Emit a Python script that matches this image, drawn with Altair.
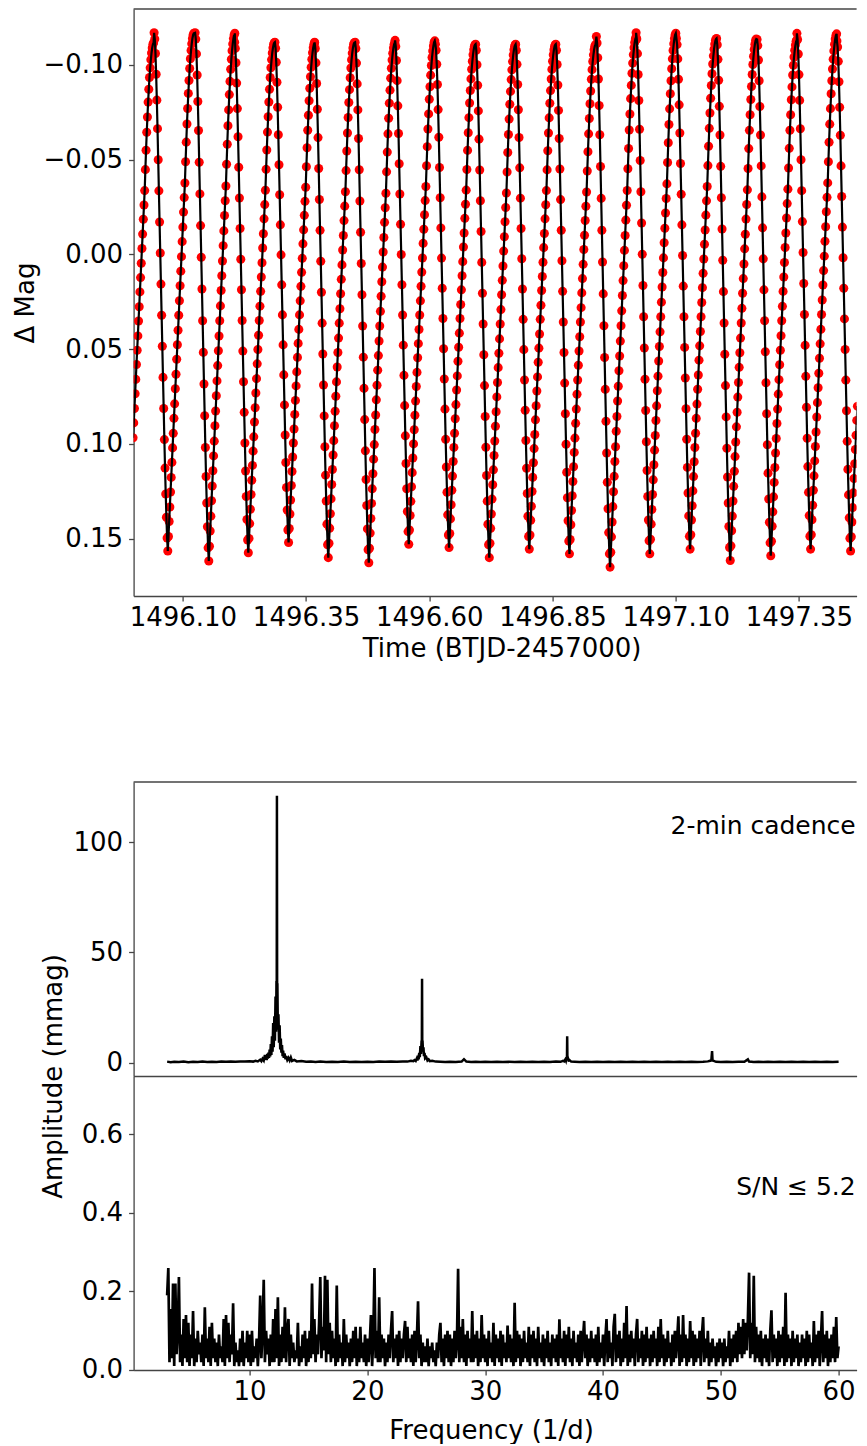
import altair as alt
import numpy as np
import pandas as pd

# ---------------- light curve ----------------
lc_cadence_days = 2.0 / 1440.0
# time of each light maximum (cycle before the first visible one included)
lc_max_time = [1495.9600, 1496.0416, 1496.1248, 1496.2050, 1496.2867, 1496.3673,
               1496.4495, 1496.5306, 1496.6124, 1496.6940, 1496.7752, 1496.8567,
               1496.9391, 1497.0197, 1497.1015, 1497.1830, 1497.2652, 1497.3460,
               1497.4272]
lc_max_mag = [-0.112, -0.117, -0.117, -0.112, -0.112, -0.112, -0.112, -0.113, -0.111,
              -0.111, -0.111, -0.111, -0.115, -0.117, -0.114, -0.114, -0.1135, -0.1167,
              -0.1127]
lc_min_mag = [0.158, 0.1565, 0.1618, 0.1574, 0.152, 0.160, 0.1627, 0.1529, 0.1547,
              0.160, 0.1555, 0.158, 0.165, 0.158, 0.1555, 0.1615, 0.159, 0.1555, 0.1565]
# pulse shape read off one cycle, one value per 2-min cadence after maximum
# (0 = maximum light, 1 = minimum light)
lc_profile = [0.000, 0.012, 0.040, 0.080, 0.130, 0.185, 0.245, 0.305, 0.365, 0.425,
              0.485, 0.545, 0.605, 0.665, 0.725, 0.785, 0.840, 0.890, 0.935, 0.975,
              1.000, 0.972, 0.943, 0.915, 0.886, 0.858, 0.829, 0.801, 0.773, 0.744,
              0.716, 0.687, 0.659, 0.630, 0.602, 0.574, 0.545, 0.517, 0.488, 0.460,
              0.432, 0.403, 0.375, 0.346, 0.318, 0.290, 0.249, 0.211, 0.176, 0.146,
              0.117, 0.092, 0.069, 0.050, 0.034, 0.021, 0.011, 0.004, 0.001]

# ---------------- amplitude spectrum, 2-min cadence (mmag) ----------------
sp_freq = [3.0, 3.3, 3.6, 4.0, 4.4, 4.8, 5.2, 5.6, 6.0, 6.4, 6.8, 7.2, 7.6, 8.0, 8.4,
           8.8, 9.2, 9.6, 10.0, 10.3, 10.5, 10.7, 10.9, 11.0, 11.1, 11.2, 11.3, 11.35,
           11.4, 11.45, 11.5, 11.55, 11.6, 11.65, 11.7, 11.75, 11.8, 11.85, 11.9, 11.95,
           12.0, 12.05, 12.1, 12.15, 12.2, 12.25, 12.28, 12.30, 12.32, 12.34, 12.36,
           12.40, 12.45, 12.50, 12.55, 12.60, 12.65, 12.70, 12.75, 12.80, 12.85, 12.90,
           12.97, 13.05, 13.1, 13.2, 13.3, 13.4, 13.5, 13.6, 13.8, 14.0, 14.4, 14.8,
           15.2, 15.6, 16.0, 16.5, 17.0, 17.5, 18.0, 18.5, 19.0, 19.5, 20.0, 20.5, 21.0,
           21.5, 22.0, 22.5, 23.0, 23.4, 23.7, 23.9, 24.0, 24.1, 24.2, 24.25, 24.3,
           24.35, 24.4, 24.45, 24.5, 24.55, 24.6, 24.62, 24.64, 24.66, 24.68, 24.72,
           24.76, 24.8, 24.85, 24.9, 25.0, 25.1, 25.2, 25.3, 25.5, 25.8, 26.2, 26.6,
           27.0, 27.5, 28.0, 28.2, 28.4, 28.8, 29.2, 29.6, 30.0, 30.5, 31.0, 31.5, 32.0,
           32.5, 33.0, 33.5, 34.0, 34.5, 35.0, 35.5, 36.0, 36.4, 36.6, 36.7, 36.8, 36.85,
           36.9, 36.94, 36.96, 36.98, 37.02, 37.08, 37.15, 37.3, 37.6, 38.0, 38.5, 39.0,
           39.5, 40.0, 40.5, 41.0, 41.5, 42.0, 42.5, 43.0, 43.5, 44.0, 44.5, 45.0, 45.5,
           46.0, 46.5, 47.0, 47.5, 48.0, 48.5, 48.9, 49.1, 49.2, 49.26, 49.3, 49.4, 49.6,
           50.0, 50.5, 51.0, 51.5, 52.0, 52.3, 52.4, 52.8, 53.2, 53.6, 54.0, 54.5, 55.0,
           55.5, 56.0, 56.5, 57.0, 57.5, 58.0, 58.5, 59.0, 59.5, 60.0]
sp_amp = [0.5, 0.2, 0.4, 0.3, 0.5, 0.2, 0.4, 0.3, 0.5, 0.3, 0.4, 0.3, 0.5, 0.4, 0.6,
          0.4, 0.6, 0.5, 0.7, 0.5, 0.9, 0.6, 1.4, 0.7, 1.8, 1.0, 3.5, 1.4,
          2.6, 1.2, 4.0, 1.8, 4.6, 2.2, 6.0, 2.8, 8.5, 3.5, 12.0, 5.0,
          18.0, 7.0, 21.0, 10.0, 30.0, 14.0, 37.0, 20.0, 121.0, 24.0, 36.0,
          15.0, 22.0, 9.0, 17.0, 6.0, 11.0, 4.5, 8.0, 3.0, 5.5, 2.2,
          4.2, 1.6, 3.0, 1.2, 2.2, 1.0, 2.4, 0.8, 1.3, 0.6, 0.8, 0.4,
          0.5, 0.3, 0.5, 0.3, 0.4, 0.3, 0.5, 0.3, 0.4, 0.3, 0.4, 0.3, 0.5,
          0.4, 0.5, 0.4, 0.6, 0.5, 0.9, 0.7, 1.2, 0.8, 2.0, 1.0, 3.0,
          1.5, 4.5, 2.5, 7.5, 4.0, 10.0, 6.0, 38.0, 7.0, 10.0, 5.0,
          7.0, 3.0, 4.5, 2.0, 2.5, 1.0, 1.5, 0.7, 0.9, 0.5, 0.4, 0.3,
          0.4, 0.3, 0.5, 1.6, 0.5, 0.3, 0.4, 0.3, 0.4, 0.3, 0.4, 0.3, 0.4,
          0.3, 0.4, 0.3, 0.4, 0.3, 0.4, 0.3, 0.5, 0.4, 0.8, 0.6, 1.5, 0.9,
          2.5, 1.5, 12.0, 1.8, 2.2, 1.0, 1.2, 0.5, 0.4, 0.3, 0.4, 0.3,
          0.4, 0.3, 0.4, 0.3, 0.4, 0.3, 0.4, 0.3, 0.4, 0.3, 0.4, 0.3, 0.4,
          0.3, 0.4, 0.3, 0.4, 0.3, 0.4, 0.6, 0.9, 1.2, 5.3, 1.0, 0.8, 0.4,
          0.3, 0.4, 0.3, 0.4, 0.4, 1.5, 0.5, 0.3, 0.4, 0.3, 0.4, 0.3, 0.4,
          0.3, 0.4, 0.3, 0.4, 0.3, 0.4, 0.3, 0.4, 0.3, 0.4]

# ---------------- residual spectrum after prewhitening (mmag) ----------------
res_freq_start = 3.0
res_freq_step = 0.1
res_amp = [
    0.19, 0.26, 0.02, 0.155, 0.03, 0.22, 0.01, 0.22, 0.04, 0.10,     # 3
    0.237, 0.02, 0.09, 0.01, 0.13, 0.03, 0.14, 0.02, 0.12, 0.01,     # 4
    0.09, 0.03, 0.15, 0.01, 0.08, 0.02, 0.10, 0.04, 0.07, 0.02,      # 5
    0.09, 0.01, 0.16, 0.03, 0.08, 0.02, 0.11, 0.01, 0.12, 0.03,      # 6
    0.08, 0.02, 0.07, 0.01, 0.09, 0.03, 0.06, 0.02, 0.13, 0.01,      # 7
    0.14, 0.03, 0.12, 0.02, 0.09, 0.04, 0.17, 0.01, 0.07, 0.02,      # 8
    0.05, 0.01, 0.08, 0.02, 0.10, 0.01, 0.07, 0.03, 0.10, 0.02,      # 9
    0.09, 0.01, 0.10, 0.02, 0.06, 0.03, 0.08, 0.01, 0.07, 0.19,      # 10
    0.03, 0.10, 0.23, 0.02, 0.10, 0.04, 0.08, 0.01, 0.09, 0.02,      # 11
    0.13, 0.02, 0.155, 0.03, 0.185, 0.01, 0.09, 0.02, 0.11, 0.03,    # 12
    0.16, 0.02, 0.10, 0.13, 0.01, 0.09, 0.03, 0.07, 0.02, 0.05,      # 13
    0.03, 0.12, 0.01, 0.06, 0.02, 0.09, 0.03, 0.10, 0.01, 0.08,      # 14
    0.02, 0.10, 0.03, 0.22, 0.04, 0.13, 0.02, 0.09, 0.04, 0.12,      # 15
    0.237, 0.03, 0.11, 0.05, 0.24, 0.02, 0.23, 0.04, 0.12, 0.02,     # 16
    0.10, 0.03, 0.08, 0.01, 0.215, 0.02, 0.09, 0.03, 0.07, 0.01,     # 17
    0.13, 0.02, 0.09, 0.03, 0.07, 0.01, 0.08, 0.02, 0.10, 0.03,      # 18
    0.11, 0.01, 0.08, 0.02, 0.11, 0.03, 0.07, 0.02, 0.09, 0.01,      # 19
    0.08, 0.02, 0.07, 0.14, 0.01, 0.08, 0.26, 0.03, 0.10, 0.02,      # 20
    0.185, 0.02, 0.09, 0.03, 0.08, 0.01, 0.07, 0.02, 0.09, 0.03,     # 21
    0.10, 0.15, 0.02, 0.08, 0.03, 0.09, 0.01, 0.10, 0.02, 0.08,      # 22
    0.03, 0.09, 0.125, 0.02, 0.11, 0.03, 0.08, 0.02, 0.09, 0.01,     # 23
    0.10, 0.02, 0.08, 0.175, 0.03, 0.09, 0.01, 0.07, 0.02, 0.06,     # 24
    0.02, 0.08, 0.01, 0.06, 0.03, 0.07, 0.02, 0.05, 0.01, 0.07,      # 25
    0.03, 0.09, 0.12, 0.02, 0.08, 0.01, 0.09, 0.03, 0.10, 0.02,      # 26
    0.09, 0.01, 0.08, 0.02, 0.10, 0.03, 0.07, 0.258, 0.02, 0.11,     # 27
    0.03, 0.13, 0.02, 0.09, 0.01, 0.10, 0.03, 0.08, 0.02, 0.15,      # 28
    0.02, 0.09, 0.03, 0.10, 0.01, 0.08, 0.02, 0.14, 0.03, 0.09,      # 29
    0.02, 0.08, 0.01, 0.10, 0.03, 0.07, 0.02, 0.12, 0.01, 0.09,      # 30
    0.03, 0.08, 0.02, 0.10, 0.01, 0.09, 0.03, 0.07, 0.02, 0.113,     # 31
    0.03, 0.09, 0.02, 0.08, 0.01, 0.171, 0.02, 0.10, 0.03, 0.09,     # 32
    0.01, 0.08, 0.02, 0.10, 0.03, 0.07, 0.02, 0.11, 0.01, 0.09,      # 33
    0.03, 0.10, 0.02, 0.08, 0.01, 0.11, 0.03, 0.07, 0.02, 0.09,      # 34
    0.01, 0.08, 0.03, 0.10, 0.02, 0.07, 0.01, 0.09, 0.03, 0.08,      # 35
    0.02, 0.09, 0.01, 0.129, 0.03, 0.08, 0.02, 0.10, 0.01, 0.09,     # 36
    0.03, 0.11, 0.02, 0.08, 0.01, 0.10, 0.03, 0.07, 0.02, 0.09,      # 37
    0.01, 0.10, 0.02, 0.08, 0.125, 0.03, 0.09, 0.01, 0.08, 0.02,     # 38
    0.10, 0.03, 0.08, 0.02, 0.09, 0.01, 0.11, 0.02, 0.07, 0.03,      # 39
    0.09, 0.01, 0.08, 0.13, 0.02, 0.10, 0.03, 0.07, 0.01, 0.11,      # 40
    0.143, 0.02, 0.09, 0.03, 0.10, 0.01, 0.08, 0.02, 0.12, 0.03,     # 41
    0.163, 0.01, 0.09, 0.02, 0.10, 0.03, 0.08, 0.01, 0.09, 0.13,     # 42
    0.02, 0.08, 0.03, 0.10, 0.01, 0.09, 0.02, 0.11, 0.03, 0.08,      # 43
    0.01, 0.09, 0.02, 0.10, 0.03, 0.08, 0.01, 0.11, 0.02, 0.13,      # 44
    0.03, 0.09, 0.01, 0.08, 0.02, 0.10, 0.03, 0.07, 0.01, 0.09,      # 45
    0.02, 0.10, 0.03, 0.08, 0.137, 0.01, 0.09, 0.02, 0.14, 0.03,     # 46
    0.09, 0.01, 0.08, 0.02, 0.125, 0.03, 0.10, 0.01, 0.09, 0.02,     # 47
    0.08, 0.03, 0.10, 0.01, 0.09, 0.135, 0.02, 0.08, 0.03, 0.10,     # 48
    0.01, 0.07, 0.02, 0.08, 0.03, 0.06, 0.01, 0.07, 0.02, 0.08,      # 49
    0.03, 0.07, 0.01, 0.08, 0.02, 0.06, 0.03, 0.10, 0.01, 0.08,      # 50
    0.02, 0.09, 0.03, 0.10, 0.02, 0.12, 0.04, 0.11, 0.03, 0.13,      # 51
    0.04, 0.12, 0.05, 0.13, 0.248, 0.03, 0.12, 0.04, 0.24, 0.02,     # 52
    0.11, 0.03, 0.09, 0.02, 0.10, 0.01, 0.08, 0.03, 0.09, 0.02,      # 53
    0.08, 0.01, 0.10, 0.152, 0.02, 0.09, 0.03, 0.08, 0.01, 0.10,     # 54
    0.02, 0.09, 0.03, 0.11, 0.01, 0.197, 0.02, 0.09, 0.03, 0.08,     # 55
    0.01, 0.10, 0.02, 0.08, 0.03, 0.09, 0.01, 0.07, 0.02, 0.09,      # 56
    0.03, 0.08, 0.01, 0.10, 0.02, 0.09, 0.03, 0.07, 0.01, 0.125,     # 57
    0.02, 0.09, 0.03, 0.10, 0.01, 0.08, 0.15, 0.02, 0.09, 0.03,      # 58
    0.10, 0.01, 0.08, 0.02, 0.09, 0.03, 0.11, 0.02, 0.135, 0.03,     # 59
    0.06]                                                            # 60.0

# ---------------- ticks and texts ----------------
time_ticks = [1496.10, 1496.35, 1496.60, 1496.85, 1497.10, 1497.35]
mag_ticks = [-0.10, -0.05, 0.00, 0.05, 0.10, 0.15]
amp_ticks = [0, 50, 100]
res_ticks = [0.0, 0.2, 0.4, 0.6]
freq_ticks = [10, 20, 30, 40, 50, 60]
label_top = ["2-min cadence"]
label_top_pos = [(61.45, 103.5)]
label_bottom = ["S/N \u2264 5.2"]
label_bottom_pos = [(61.45, 0.445)]

# ---------------- layout constants ----------------
W = 723
H_TOP = 587
H_GAP = 186
H_SP = 294
PX_PER_DAY = 492.8
PX_PER_FREQ = 11.78
FRAME = "#444444"
FONT = "DejaVu Sans"

T_MIN = 1496.0
T_MAX = T_MIN + W / PX_PER_DAY
F_MIN = 0.153
F_MAX = F_MIN + W / PX_PER_FREQ

# ---------------- tables ----------------
rows = []
for tm, mx, mn in zip(lc_max_time, lc_max_mag, lc_min_mag):
    for j, u in enumerate(lc_profile):
        t = tm + j * lc_cadence_days
        if T_MIN - 0.002 <= t <= T_MAX + 0.002:
            rows.append((t, mx + u * (mn - mx)))
lc_df = pd.DataFrame(rows, columns=["t", "m"]).sort_values("t")
sp_df = pd.DataFrame({"f": sp_freq, "a": sp_amp})
res_df = pd.DataFrame({
    "f": np.round(res_freq_start + res_freq_step * np.arange(len(res_amp)), 2),
    "a": res_amp,
})
one_df = pd.DataFrame({"z": [0]})
txt1_df = pd.DataFrame({"f": [p[0] for p in label_top_pos],
                        "a": [p[1] for p in label_top_pos], "s": label_top})
txt2_df = pd.DataFrame({"f": [p[0] for p in label_bottom_pos],
                        "a": [p[1] for p in label_bottom_pos], "s": label_bottom})

# ---------------- top panel: light curve ----------------
x_time = alt.X("t:Q", scale=alt.Scale(domain=[T_MIN, T_MAX], nice=False, zero=False),
               axis=alt.Axis(values=time_ticks, format=".2f", labelPadding=3.5,
                             title="Time (BTJD-2457000)", titleX=368, titleY=60,
                             titleBaseline="alphabetic"))
y_mag = alt.Y("m:Q", scale=alt.Scale(domain=[-0.12955, 0.18025], reverse=True,
                                     nice=False, zero=False),
              axis=alt.Axis(values=mag_ticks, format=".2f", labelPadding=6,
                            title="\u0394 Mag", titleX=-100,
                            titleBaseline="alphabetic"))
lc_base = alt.Chart(lc_df).encode(x=x_time, y=y_mag)
dots = lc_base.mark_circle(size=82, color="#ff0000", opacity=1, clip=True)
fit_line = lc_base.mark_line(color="black", strokeWidth=2.2, clip=True)
top_rule = alt.Chart(one_df).mark_rule(color=FRAME, strokeWidth=1.3).encode(
    x=alt.value(0), x2=alt.value(W), y=alt.value(0))
top_panel = alt.layer(dots, fit_line, top_rule).properties(width=W, height=H_TOP)

# ---------------- spacer ----------------
spacer = alt.Chart(one_df).mark_point(opacity=0).encode(
    x=alt.value(0), y=alt.value(0)).properties(width=W, height=H_GAP)

# ---------------- middle panel: 2-min cadence spectrum ----------------
fscale = alt.Scale(domain=[F_MIN, F_MAX], nice=False, zero=False)
sp_x = alt.X("f:Q", scale=fscale,
             axis=alt.Axis(labels=False, ticks=False, title=None))
sp_y = alt.Y("a:Q", scale=alt.Scale(domain=[-6.02, 127.19], nice=False, zero=False),
             axis=alt.Axis(values=amp_ticks, format="d", labelPadding=6,
                           title="Amplitude (mmag)", titleX=-71.7, titleY=294,
                           titleBaseline="alphabetic"))
sp_line = alt.Chart(sp_df).mark_line(color="black", strokeWidth=2.5, clip=True).encode(
    x=sp_x, y=sp_y)
sp_text = alt.Chart(txt1_df).mark_text(align="right", baseline="alphabetic",
                                       fontSize=25, font=FONT, color="black").encode(
    x=alt.X("f:Q", scale=fscale), y=alt.Y("a:Q"), text="s:N")
sp_rule = alt.Chart(one_df).mark_rule(color=FRAME, strokeWidth=1.3).encode(
    x=alt.value(0), x2=alt.value(W), y=alt.value(0))
mid_panel = alt.layer(sp_line, sp_text, sp_rule).properties(width=W, height=H_SP)

# ---------------- bottom panel: residual spectrum ----------------
res_x = alt.X("f:Q", scale=fscale,
              axis=alt.Axis(values=freq_ticks, format="d", labelPadding=3.5,
                            title="Frequency (1/d)", titleX=357.5, titleY=68.3,
                            titleBaseline="alphabetic"))
res_y = alt.Y("a:Q", scale=alt.Scale(domain=[0.0, 0.749], nice=False, zero=False),
              axis=alt.Axis(values=res_ticks, format=".1f", labelPadding=6, title=None))
res_line = alt.Chart(res_df).mark_line(color="black", strokeWidth=2.7, clip=True).encode(
    x=res_x, y=res_y)
res_text = alt.Chart(txt2_df).mark_text(align="right", baseline="alphabetic",
                                        fontSize=25, font=FONT, color="black").encode(
    x=alt.X("f:Q", scale=fscale), y=alt.Y("a:Q"), text="s:N")
bot_panel = alt.layer(res_line, res_text).properties(width=W, height=H_SP)

chart = alt.vconcat(top_panel, spacer, mid_panel, bot_panel, spacing=0,
                    bounds="flush").properties(
    padding={"left": 4.6, "top": 0, "right": 0, "bottom": 0}
).configure(font=FONT).configure_view(strokeWidth=0).configure_axis(
    labelFont=FONT, labelFontSize=26, labelColor="black",
    titleFont=FONT, titleFontSize=26, titleFontWeight="normal", titleColor="black",
    domainColor=FRAME, domainWidth=1.3, tickColor=FRAME, tickWidth=1.3, tickSize=5,
    grid=False, labelFlush=False, labelOverlap=False)

chart.save("out.html", embed_options={"renderer": "svg", "actions": False})
